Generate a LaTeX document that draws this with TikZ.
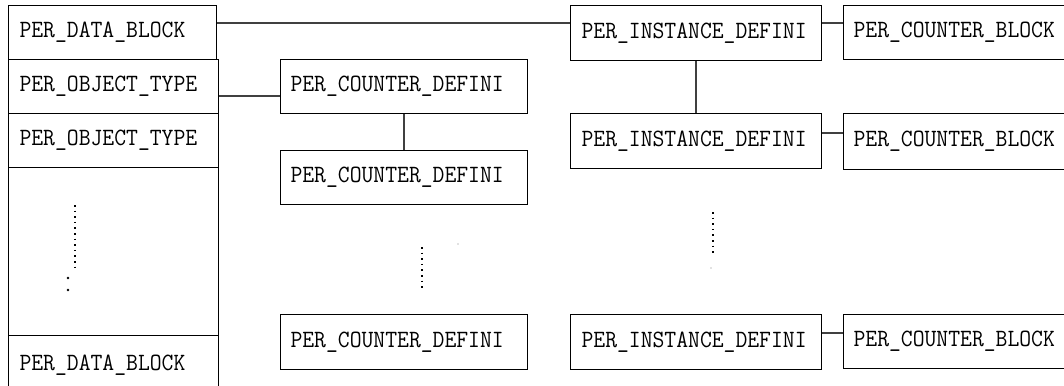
\documentclass[tikz,border=0pt]{standalone}
\usepackage{fontspec}
\begin{document}
\begin{tikzpicture}[x=1pt,y=-1pt,
  bx/.style={draw=black,line width=1.1pt,rectangle,anchor=north west,
    inner xsep=11pt,inner ysep=0pt,align=left,
    font=\ttfamily\fontsize{23}{23}\selectfont},
  conn/.style={draw=black!75,line width=1.3pt},
  dotcol/.style={draw=black,line width=1.6pt,dash pattern=on 1.6pt off 4pt}]
\useasboundingbox (0,0) rectangle (1064,385);
\clip (0,0) rectangle (1064,385);
% left column
\node[bx,text width=186pt,minimum height=54pt] (db1) at (8,5) {\scalebox{1}[1.08]{PER\_DATA\_BLOCK}};
\node[bx,text width=188pt,minimum height=54pt] (ot1) at (8,59) {\scalebox{1}[1.08]{PER\_OBJECT\_TYPE}};
\node[bx,text width=188pt,minimum height=54pt] (ot2) at (8,113) {\scalebox{1}[1.08]{PER\_OBJECT\_TYPE}};
\node[bx,text width=188pt,minimum height=168pt] (big) at (8,167) {};
\node[bx,text width=188pt,minimum height=60pt] (db2) at (8,335) {\raisebox{-3pt}{\scalebox{1}[1.08]{PER\_DATA\_BLOCK}}\\[8pt]};
% middle column
\node[bx,text width=227pt,minimum height=54pt,inner xsep=10pt] (cd1) at (280,59) {\scalebox{1}[1.08]{PER\_COUNTER\_DEFINI}};
\node[bx,text width=227pt,minimum height=54pt,inner xsep=10pt] (cd2) at (280,150) {\scalebox{1}[1.08]{PER\_COUNTER\_DEFINI}};
\node[bx,text width=227pt,minimum height=55pt,inner xsep=10pt] (cd3) at (280,314) {\scalebox{1}[1.08]{PER\_COUNTER\_DEFINI}};
% right columns
\node[bx,text width=229pt,minimum height=55pt] (in1) at (570,5) {\scalebox{1}[1.08]{PER\_INSTANCE\_DEFINI}};
\node[bx,text width=229pt,minimum height=55pt] (in2) at (570,113) {\scalebox{1}[1.08]{PER\_INSTANCE\_DEFINI}};
\node[bx,text width=229pt,minimum height=55pt] (in3) at (570,314) {\scalebox{1}[1.08]{PER\_INSTANCE\_DEFINI}};
\node[bx,text width=220pt,minimum height=54pt,inner xsep=10pt] (cb1) at (843,5) {\scalebox{1}[1.08]{PER\_COUNTER\_BLOCK}};
\node[bx,text width=220pt,minimum height=56pt,inner xsep=10pt] (cb2) at (843,113) {\scalebox{1}[1.08]{PER\_COUNTER\_BLOCK}};
\node[bx,text width=220pt,minimum height=54pt,inner xsep=10pt] (cb3) at (843,314) {\scalebox{1}[1.08]{PER\_COUNTER\_BLOCK}};
% connectors
\draw[conn] ([yshift=-18pt]db1.north east) -- ([yshift=-18pt]in1.north west);
\draw[conn] ([yshift=-37pt]ot1.north east) -- ([yshift=-37pt]cd1.north west);
\draw[conn] (cd1.south) -- (cd2.north);
\draw[conn] (in1.south) -- (in2.north);
\draw[conn] ([yshift=-18pt]in1.north east) -- ([yshift=-18pt]cb1.north west);
\draw[conn] ([yshift=-20pt]in2.north east) -- ([yshift=-20pt]cb2.north west);
\draw[conn] ([yshift=-19pt]in3.north east) -- ([yshift=-19pt]cb3.north west);
% ellipsis dots
\coordinate (d1a) at (75,205); \coordinate (d1b) at (75,270);
\draw[dotcol] (d1a) -- (d1b);
\coordinate (d1c) at (68,278); \coordinate (d1d) at (68,290);
\fill (d1c) circle (1.3pt); \fill (d1d) circle (1.3pt);
\coordinate (d2a) at (422,247); \coordinate (d2b) at (422,290);
\draw[dotcol] (d2a) -- (d2b);
\fill[black!50] (458,244) circle (0.6pt);
\coordinate (d3a) at (713,212); \coordinate (d3b) at (713,253);
\draw[dotcol] (d3a) -- (d3b);
\fill[black!50] (711,268) circle (0.6pt);
\end{tikzpicture}
\end{document}
